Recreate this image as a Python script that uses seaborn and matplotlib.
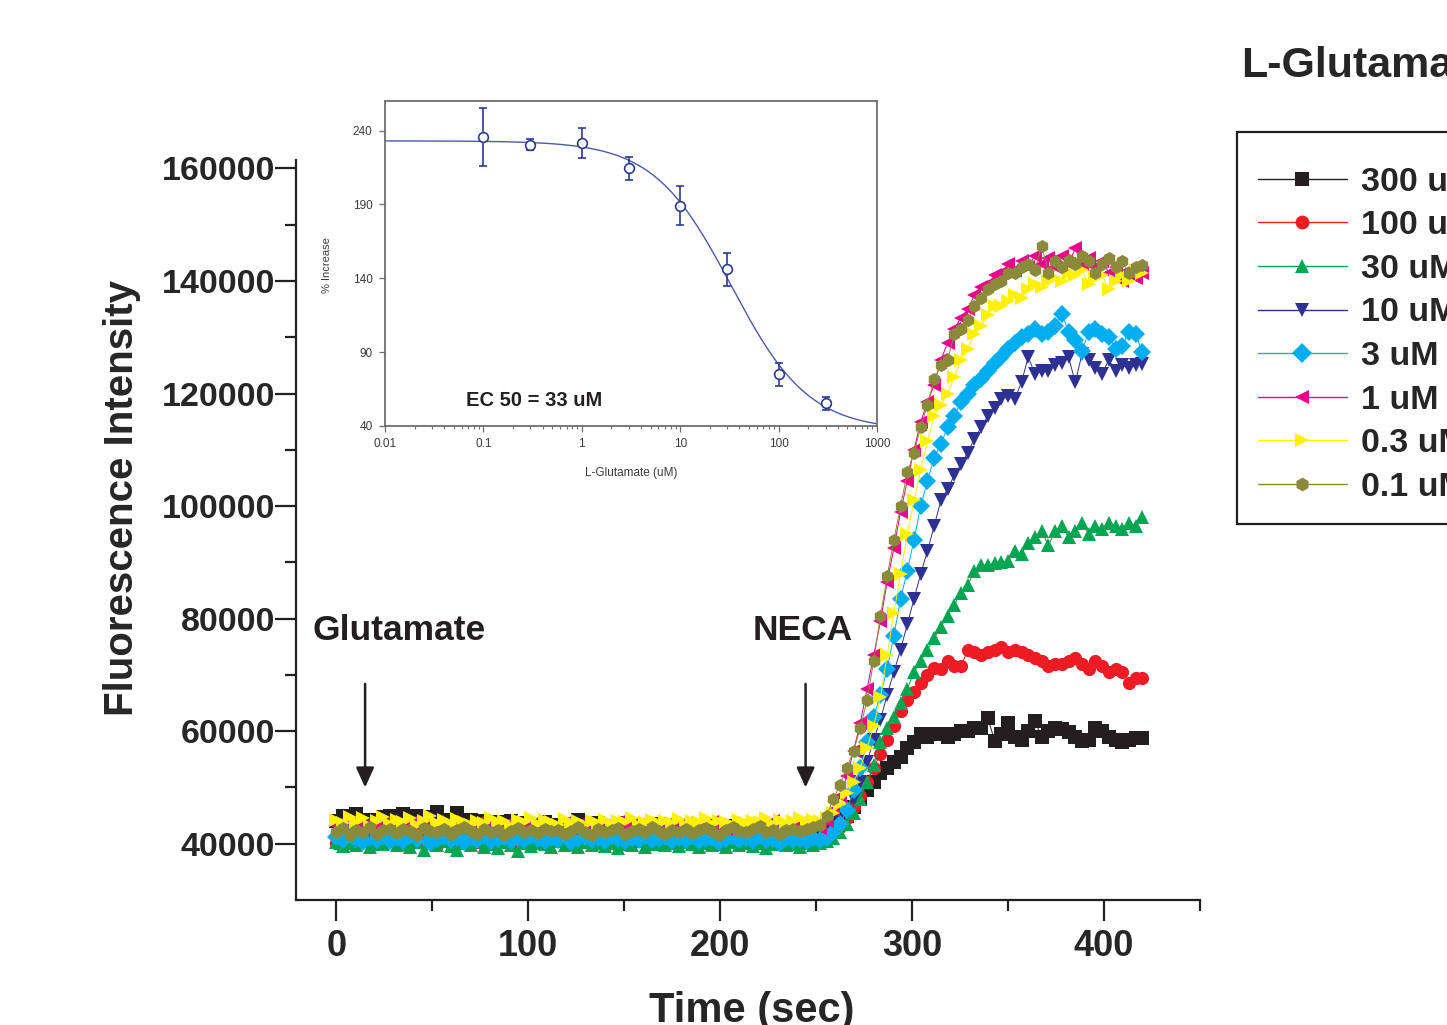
import numpy as np
import pandas as pd
import matplotlib
matplotlib.use("Agg")
import matplotlib.pyplot as plt
from matplotlib.lines import Line2D
import seaborn as sns

sns.set_style("ticks")
plt.rcParams["font.family"] = ["Liberation Sans", "DejaVu Sans"]

# sampling interval of the plate reader (sec)
DT = 3.5

labels = ["300 uM", "100 uM", "30 uM", "10 uM", "3 uM", "1 uM", "0.3 uM", "0.1 uM"]
colors = ["#231f20", "#ed1c24", "#00a651", "#2e3192", "#00aeef", "#ec008c", "#fff200", "#8b8a3a"]
markers = ["s", "o", "^", "v", "D", "<", ">", "h"]

# fluorescence intensity, x1000
glu_300 = [44.1, 44.9, 44.6, 45.2, 43.9, 44.3, 43.6, 44.8, 45.0, 44.4,
           45.3, 44.6, 44.9, 44.0, 44.7, 45.6, 44.3, 43.9, 45.4, 44.1,
           44.2, 43.6, 44.0, 43.4, 43.9, 43.5, 44.1, 43.2, 43.7, 43.4,
           43.1, 43.8, 43.3, 43.0, 43.5, 43.1, 44.2, 43.4, 42.9, 43.6,
           43.2, 43.0, 43.4, 43.7, 42.9, 43.3, 43.1, 42.8, 43.5, 43.2,
           42.9, 43.3, 42.8, 43.1, 42.7, 43.0, 42.9, 43.3, 42.7, 43.1,
           42.8, 43.2, 42.6, 42.9, 43.1, 42.7, 43.0, 42.8, 43.3, 42.7,
           42.9, 43.1, 43.0, 43.0, 43.5, 44.0, 45.0, 46.5, 48.0, 49.5,
           51.0, 52.5, 53.5, 54.5, 55.5, 57.0, 58.0, 59.5, 59.0, 59.5,
           59.5, 59.0, 59.5, 60.0, 60.0, 60.5, 60.5, 62.3, 58.3, 59.5,
           61.5, 59.0, 58.5, 60.0, 61.8, 59.0, 60.0, 60.5, 60.3, 59.8,
           59.0, 58.2, 58.5, 60.5, 60.0, 59.0, 58.5, 58.0, 58.5, 58.8,
           58.7]
glu_100 = [40.2, 39.6, 40.8, 40.3, 41.0, 40.5, 39.9, 40.7, 40.4, 41.1,
           40.6, 40.0, 40.9, 40.3, 40.7, 39.8, 40.5, 41.0, 40.2, 40.6,
           40.9, 40.3, 40.0, 40.8, 40.4, 41.2, 40.1, 40.6, 40.3, 40.9,
           40.5, 40.0, 40.7, 41.0, 40.4, 40.8, 40.2, 40.6, 39.9, 40.7,
           40.4, 41.0, 40.3, 40.7, 40.1, 40.8, 40.5, 40.2, 40.9, 40.4,
           40.6, 40.0, 40.8, 40.3, 41.1, 40.5, 39.7, 40.6, 40.9, 40.3,
           40.7, 40.2, 40.8, 40.4, 41.0, 40.5, 40.1, 40.7, 40.4, 40.9,
           40.6, 40.3, 40.8, 41.5, 42.0, 43.0, 44.5, 46.5, 48.5, 51.0,
           53.5, 56.0, 58.5, 61.0, 63.5, 65.5, 67.0, 68.5, 70.0, 71.3,
           71.0, 72.5, 71.5, 71.5, 74.5, 74.0, 73.5, 74.0, 74.5, 75.0,
           74.0, 74.5, 74.0, 73.5, 73.0, 72.5, 71.5, 72.0, 72.0, 72.5,
           73.0, 72.0, 71.0, 72.5, 71.5, 70.5, 71.0, 70.5, 68.5, 69.5,
           69.5]
glu_30 = [40.3, 39.6, 40.1, 39.8, 40.5, 39.4, 40.2, 39.9, 40.6, 39.7,
          40.0, 39.5, 40.3, 38.8, 40.1, 39.8, 40.4, 39.6, 38.9, 40.2,
          39.7, 40.4, 39.5, 40.0, 39.2, 40.3, 39.8, 38.7, 40.1, 39.6,
          40.2, 39.9, 39.4, 40.4, 39.7, 40.0, 39.5, 40.3, 39.8, 40.1,
          39.6, 40.2, 39.3, 40.0, 39.8, 40.4, 39.5, 39.9, 40.2, 39.7,
          40.1, 39.6, 40.3, 39.9, 39.4, 40.2, 39.7, 40.0, 39.5, 40.3,
          39.8, 40.1, 39.6, 40.2, 39.3, 39.9, 40.4, 39.7, 40.0, 39.5,
          40.1, 39.8, 40.2, 40.5, 41.0, 42.0, 43.5, 45.5, 48.0, 51.0,
          54.0, 58.0, 60.5, 62.5, 65.0, 67.5, 70.5, 72.5, 74.5, 76.5,
          78.5, 80.5, 82.5, 84.5, 86.0, 88.5, 89.5, 89.5, 89.8, 90.0,
          90.2, 92.0, 91.5, 93.5, 94.5, 95.5, 93.0, 95.5, 96.5, 94.5,
          95.5, 97.0, 95.0, 96.5, 96.0, 97.0, 96.5, 96.0, 97.0, 96.5,
          98.0]
glu_10 = [42.8, 43.4, 42.5, 43.1, 42.7, 43.5, 42.4, 43.0, 42.6, 43.3,
          42.9, 42.3, 43.2, 42.7, 43.4, 42.5, 43.0, 42.8, 43.3, 42.4,
          43.1, 42.6, 42.9, 43.4, 42.5, 43.0, 42.7, 43.2, 42.4, 42.9,
          43.3, 42.6, 43.0, 42.5, 43.2, 42.8, 42.4, 43.1, 42.7, 43.0,
          42.5, 43.2, 42.8, 42.3, 43.0, 42.6, 43.3, 42.9, 42.5, 43.1,
          42.7, 43.0, 42.4, 42.9, 43.2, 42.6, 42.8, 43.1, 42.5, 42.9,
          43.2, 42.6, 43.0, 42.4, 42.8, 43.1, 42.5, 42.9, 42.7, 43.0,
          42.6, 42.9, 42.7, 42.5, 43.0, 44.0, 45.5, 48.0, 51.0, 54.5,
          58.5, 62.0, 66.5, 70.5, 74.5, 79.0, 83.5, 88.0, 92.0, 96.5,
          101.0, 103.0, 105.5, 107.5, 109.5, 112.0, 114.0, 116.0, 117.5, 119.0,
          119.5, 119.0, 122.0, 126.5, 123.5, 124.0, 124.0, 125.0, 125.5, 126.5,
          122.0, 127.0, 126.0, 124.5, 123.5, 126.0, 124.0, 125.0, 124.5, 125.0,
          125.3]
glu_3 = [41.2, 40.6, 41.5, 40.9, 40.3, 41.1, 40.7, 41.4, 40.5, 41.0,
         40.4, 41.3, 40.8, 41.6, 40.2, 40.9, 41.2, 40.6, 41.0, 40.3,
         41.1, 40.7, 41.4, 40.5, 40.9, 41.2, 40.4, 41.0, 40.6, 41.3,
         40.8, 40.4, 41.1, 40.7, 41.5, 40.3, 40.9, 41.2, 40.6, 41.0,
         40.5, 41.3, 40.8, 40.4, 41.1, 40.7, 41.4, 40.6, 40.9, 41.2,
         40.4, 41.0, 40.7, 41.3, 40.5, 40.9, 41.1, 40.3, 40.8, 41.2,
         40.6, 41.0, 40.4, 41.3, 40.7, 40.9, 40.2, 41.1, 40.6, 40.8,
         40.4, 41.0, 40.7, 41.0, 42.0, 43.5, 46.0, 49.5, 53.5, 58.0,
         62.5, 66.5, 71.0, 77.0, 83.5, 88.5, 94.0, 100.0, 104.5, 108.5,
         111.0, 114.0, 116.0, 118.5, 120.0, 121.5, 122.5, 124.0, 125.5, 126.5,
         128.0, 129.0, 130.0, 130.5, 131.5, 130.5, 131.0, 132.0, 134.2, 131.0,
         129.5, 127.5, 131.0, 131.5, 130.5, 130.0, 128.0, 128.5, 131.0, 130.5,
         127.3]
glu_1 = [43.4, 42.7, 43.9, 43.1, 42.5, 43.6, 42.9, 43.3, 44.0, 42.8,
         43.2, 43.7, 42.6, 43.4, 42.9, 43.8, 43.0, 42.4, 43.5, 43.1,
         42.7, 43.6, 43.0, 42.5, 43.3, 42.8, 43.9, 42.6, 43.2, 43.5,
         42.9, 43.4, 42.6, 43.1, 43.7, 42.8, 43.3, 42.5, 43.0, 43.6,
         42.7, 43.2, 43.8, 42.9, 43.4, 42.6, 43.1, 43.5, 42.8, 43.3,
         43.0, 42.6, 43.6, 42.9, 43.2, 42.5, 43.8, 43.1, 42.7, 43.4,
         43.0, 42.8, 43.5, 42.6, 43.3, 44.1, 42.9, 43.2, 42.7, 43.6,
         43.0, 43.4, 42.8, 44.0, 46.0, 48.5, 52.0, 56.5, 61.5, 67.5,
         73.5, 79.5, 86.5, 92.5, 99.0, 104.5, 110.0, 115.0, 118.5, 121.5,
         126.0, 129.0, 131.5, 133.5, 135.0, 137.5, 139.0, 139.5, 141.0, 141.5,
         143.0, 142.0, 143.5, 142.5, 144.5, 143.0, 144.0, 142.5, 144.5, 143.0,
         145.8, 143.0, 144.0, 142.5, 143.5, 141.5, 142.5, 140.0, 142.0, 140.5,
         141.5]
glu_03 = [44.3, 43.6, 44.8, 43.9, 44.5, 43.2, 44.1, 44.7, 43.5, 44.2,
          43.8, 44.6, 43.4, 44.0, 44.9, 43.7, 44.3, 43.5, 44.4, 43.9,
          43.3, 44.1, 43.7, 44.5, 43.6, 44.0, 43.2, 44.3, 43.8, 44.6,
          43.5, 44.2, 43.9, 43.4, 44.4, 43.7, 44.1, 43.3, 44.0, 43.6,
          44.3, 43.5, 44.0, 43.8, 44.6, 43.4, 43.9, 44.2, 43.6, 44.1,
          43.7, 44.4, 43.3, 44.0, 43.8, 44.5, 43.5, 44.1, 43.9, 43.4,
          44.2, 43.6, 44.0, 43.8, 44.5, 43.5, 44.3, 43.7, 44.1, 44.6,
          43.8, 44.2, 44.0, 44.5, 45.5, 47.0, 49.0, 51.0, 53.5, 57.0,
          61.0, 66.0, 73.5, 81.0, 88.0, 95.0, 101.0, 106.5, 111.5, 116.0,
          118.0, 120.0, 123.0, 126.0, 128.0, 130.5, 132.0, 134.0, 135.5, 135.5,
          136.5, 137.5, 137.0, 138.5, 139.5, 139.0, 140.0, 140.5, 140.0, 141.5,
          141.0, 142.0, 139.5, 140.5, 141.0, 138.5, 140.0, 141.0, 140.0, 142.0,
          141.5]
glu_01 = [42.1, 42.8, 41.6, 42.5, 42.0, 42.9, 41.8, 42.4, 42.7, 41.9,
          42.6, 42.2, 41.5, 42.8, 42.3, 42.0, 42.7, 41.7, 42.4, 42.9,
          42.2, 41.8, 42.6, 42.1, 42.5, 41.6, 42.3, 42.8, 42.0, 42.4,
          41.9, 42.7, 42.2, 42.5, 41.7, 42.3, 42.9, 42.1, 41.5, 42.6,
          42.0, 42.4, 42.8, 41.8, 42.3, 42.6, 42.1, 42.9, 42.2, 41.7,
          42.5, 42.0, 42.7, 41.9, 42.4, 42.8, 42.2, 41.6, 42.5, 42.9,
          42.3, 42.0, 42.6, 43.2, 42.1, 42.5, 41.8, 42.4, 42.7, 42.2,
          42.6, 43.0, 43.4, 45.0, 48.0, 50.5, 53.5, 56.5, 60.5, 65.5,
          72.5, 80.5, 87.5, 94.0, 100.0, 106.0, 109.5, 114.0, 118.0, 122.5,
          125.0, 126.0, 130.5, 131.5, 133.0, 135.5, 137.0, 138.5, 139.5, 140.0,
          141.5, 141.5, 142.5, 143.0, 142.0, 146.3, 141.5, 143.5, 142.5, 143.8,
          143.0, 144.5, 143.5, 141.5, 143.0, 144.0, 142.5, 143.5, 141.5, 142.5,
          142.8]
series = [glu_300, glu_100, glu_30, glu_10, glu_3, glu_1, glu_03, glu_01]

# inset: dose response
dose = [0.1, 0.3, 1, 3, 10, 30, 100, 300]
pct_increase = [235.5, 230.5, 231.4, 214.5, 189.2, 146.2, 75.0, 55.4]
pct_err = [19.5, 3.5, 10.2, 7.9, 13.4, 11.1, 7.9, 4.3]
fit_top, fit_bottom, fit_ec50, fit_hill = 233.0, 37.0, 33.0, 1.1


def build_frame():
    frames = []
    for lab, vals in zip(labels, series):
        t = np.arange(len(vals)) * DT
        frames.append(pd.DataFrame({"time": t, "intensity": np.array(vals) * 1000, "conc": lab}))
    return pd.concat(frames, ignore_index=True)


df = build_frame()

fig = plt.figure(figsize=(14.47, 10.25), dpi=100)
ax = fig.add_axes([296 / 1447, 1 - 900 / 1025, 904 / 1447, 740 / 1025])

sns.lineplot(data=df, x="time", y="intensity", hue="conc", style="conc",
             hue_order=labels, style_order=labels,
             palette=dict(zip(labels, colors)), markers=dict(zip(labels, markers)),
             dashes=False, estimator=None, sort=False, linewidth=0.7,
             markersize=9.5, markeredgewidth=0, legend=False, ax=ax)

ax.set_xlim(-21, 450)
ax.set_ylim(30000, 161500)
sns.despine(ax=ax)
for side in ["left", "bottom"]:
    ax.spines[side].set_linewidth(1.6)
    ax.spines[side].set_color("#231f20")
ax.set_xticks([0, 100, 200, 300, 400])
ax.set_xticks([50, 150, 250, 350, 450], minor=True)
ax.set_yticks(np.arange(40000, 160001, 20000))
ax.set_yticks(np.arange(50000, 150001, 20000), minor=True)
ax.tick_params(which="major", length=15, width=1.6, direction="out", color="#231f20")
ax.tick_params(which="minor", length=8, width=1.6, direction="out", color="#231f20")
ax.tick_params(axis="y", labelsize=24.5, pad=0)
ax.tick_params(axis="x", labelsize=26, pad=6)
for lbl in ax.get_yticklabels() + ax.get_xticklabels():
    lbl.set_fontweight("bold")
ax.set_xlabel("")
ax.set_ylabel("")

fig.text(122 / 1447, 1 - 498 / 1025, "Fluorescence Intensity", rotation=90,
         ha="center", va="center", fontsize=29, fontweight="bold")
fig.text(752 / 1447, 0.003, "Time (sec)", ha="center", va="baseline",
         fontsize=30, fontweight="bold")
fig.text(1241 / 1447, 1 - 77 / 1025, "L-Glutamate", ha="left", va="baseline",
         fontsize=31, fontweight="bold")

# addition markers
ax.text(-12.5, 77900, "Glutamate", fontsize=25.5, fontweight="bold", va="center", color="#231f20")
ax.text(217, 77900, "NECA", fontsize=25.5, fontweight="bold", va="center", color="#231f20")
arrow = dict(arrowstyle="-|>,head_length=0.55,head_width=0.25", color="#231f20",
             lw=1.8, mutation_scale=22, shrinkA=0, shrinkB=0)
ax.annotate("", xy=(15, 50000), xytext=(15, 68400), arrowprops=arrow)
ax.annotate("", xy=(244.5, 50000), xytext=(244.5, 68400), arrowprops=arrow)

handles = [Line2D([], [], color=c, marker=m, markersize=10, markeredgewidth=0, lw=1.0)
           for c, m in zip(colors, markers)]
# tiny blank title just pushes the rows down a bit inside the frame
leg = fig.legend(handles, labels, loc="upper left", title=" ", title_fontsize=1,
                 bbox_to_anchor=(1237 / 1447, 1 - 132 / 1025), bbox_transform=fig.transFigure,
                 frameon=True, fancybox=False, edgecolor="#231f20", framealpha=1,
                 prop={"weight": "bold", "size": 24.5}, handlelength=2.6,
                 handletextpad=0.42, labelspacing=0.37, borderpad=0.62, borderaxespad=0)
leg.get_frame().set_linewidth(1.6)

# inset dose-response
blue = "#2b3990"
axin = fig.add_axes([385 / 1447, 1 - 426 / 1025, 492 / 1447, 325 / 1025])
axin.set_xscale("log")
xfit = np.logspace(-2, 3, 300)
yfit = fit_bottom + (fit_top - fit_bottom) / (1 + (xfit / fit_ec50) ** fit_hill)
sns.lineplot(x=xfit, y=yfit, color="#4a5aad", linewidth=1.0, ax=axin)
axin.errorbar(dose, pct_increase, yerr=pct_err, fmt="o", mfc="white", mec=blue,
              ecolor=blue, capsize=3, ms=7, mew=1.2, elinewidth=1.2)
axin.set_xlim(0.01, 1000)
axin.set_ylim(40, 260)
axin.set_xticks([0.01, 0.1, 1, 10, 100, 1000])
axin.set_xticklabels(["0.01", "0.1", "1", "10", "100", "1000"])
axin.set_yticks([40, 90, 140, 190, 240])
for s in axin.spines.values():
    s.set_color("#6d6e71")
    s.set_linewidth(1.3)
axin.tick_params(which="major", length=4, width=0.9, color="#6d6e71", labelsize=8.5,
                 pad=5, labelcolor="#3a3a3a")
axin.tick_params(which="minor", length=2.5, width=0.8, color="#6d6e71")
axin.text(-0.118, 0.495, "% Increase", rotation=90, ha="center", va="center",
          fontsize=8, color="#3a3a3a", transform=axin.transAxes)
axin.text(0.5, -0.145, "L-Glutamate (uM)", ha="center", va="center",
          fontsize=8.5, color="#3a3a3a", transform=axin.transAxes)
axin.text(0.165, 0.077, "EC 50 = 33 uM", fontsize=14.5, fontweight="bold",
          va="center", color="#231f20", transform=axin.transAxes)

fig.savefig("out.png", dpi=100)
